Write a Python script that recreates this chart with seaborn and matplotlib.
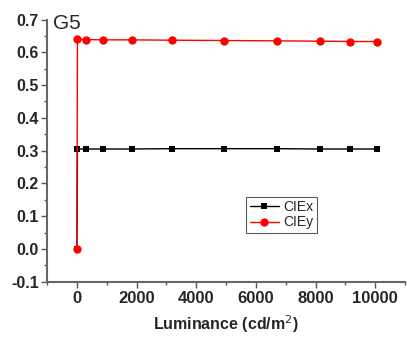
import matplotlib
matplotlib.use("Agg")
import matplotlib.pyplot as plt
import seaborn as sns
import pandas as pd
from matplotlib.ticker import MultipleLocator

luminance = [0, 20, 300, 880, 1850, 3190, 4940, 6700, 8130, 9160, 10050]
ciex = [0.0, 0.305, 0.305, 0.305, 0.305, 0.306, 0.306, 0.306, 0.305, 0.305, 0.305]
ciey = [0.0, 0.640, 0.639, 0.638, 0.638, 0.637, 0.636, 0.635, 0.634, 0.633, 0.633]

sns.set_style("ticks")
plt.rcParams['font.family'] = ['Liberation Sans', 'DejaVu Sans']

fig = plt.figure(figsize=(4.07, 3.37), dpi=100)
ax = fig.add_axes([0.1155, 0.164, 0.88, 0.778])

df = pd.DataFrame({"L": luminance, "CIEx": ciex, "CIEy": ciey})
sns.lineplot(data=df, x="L", y="CIEx", ax=ax, color="black", marker="s",
             markersize=5, markeredgewidth=0, linewidth=1, label="CIEx")
sns.lineplot(data=df, x="L", y="CIEy", ax=ax, color="red", marker="o",
             markersize=6, markeredgewidth=0, linewidth=1, label="CIEy")

ax.set_xlim(-1000, 11000)
ax.set_ylim(-0.1, 0.7)
ax.set_xticks([0, 2000, 4000, 6000, 8000, 10000])
ax.set_yticks([-0.1, 0.0, 0.1, 0.2, 0.3, 0.4, 0.5, 0.6, 0.7])
ax.set_yticklabels(["-0.1", "0.0", "0.1", "0.2", "0.3", "0.4", "0.5", "0.6", "0.7"])
ax.xaxis.set_minor_locator(MultipleLocator(1000))
ax.yaxis.set_minor_locator(MultipleLocator(0.05))
for lab in ax.get_xticklabels():
    lab.set_fontweight("bold")
    lab.set_fontsize(12)
for lab in ax.get_yticklabels():
    lab.set_fontweight("bold")
    lab.set_fontsize(11.5)
ax.tick_params(axis="both", which="major", length=4, width=1, color="#555555", pad=2)
ax.tick_params(axis="x", which="major", pad=3)
ax.tick_params(axis="both", which="minor", length=2, width=1, color="#555555")
for s in ["top", "right"]:
    ax.spines[s].set_visible(False)
for s in ["left", "bottom"]:
    ax.spines[s].set_color("#666666")
    ax.spines[s].set_linewidth(1.5)
ax.set_ylabel("")
ax.set_xlabel("Luminance (cd/m$^2$)", fontsize=11.5, fontweight="bold", labelpad=5)
ax.text(-800, 0.672, "G5", fontsize=15, va="baseline", ha="left")

leg = ax.legend(loc="lower left", bbox_to_anchor=(0.556, 0.186), frameon=True,
                fancybox=False, edgecolor="#333333", fontsize=10,
                handlelength=2.1, borderpad=0.25, labelspacing=0.1,
                handletextpad=0.3, borderaxespad=0)
leg.get_frame().set_linewidth(0.8)

fig.savefig("out.png", dpi=100)
